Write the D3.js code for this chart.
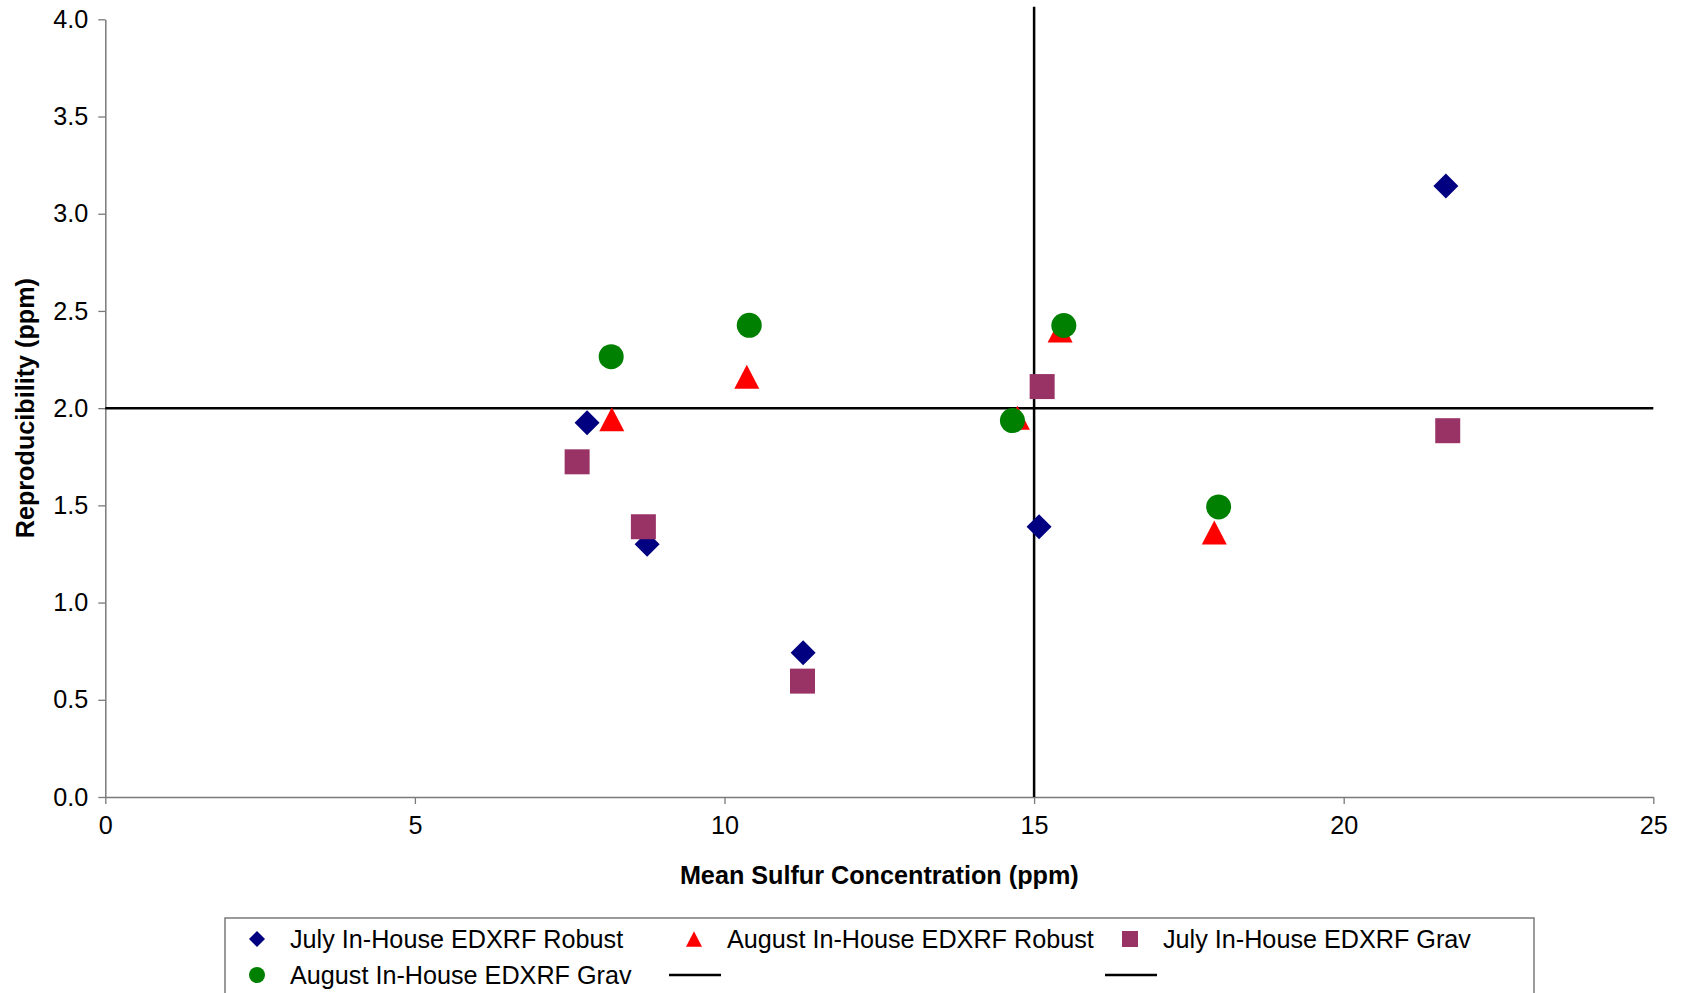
<!DOCTYPE html>
<html><head><meta charset="utf-8">
<script src="https://cdn.jsdelivr.net/npm/d3@7"></script>
<style>
body{margin:0;background:#fff;overflow:hidden;}
svg{display:block;font-family:"Liberation Sans",Arial,sans-serif;}
</style>
</head><body>
<svg id="chart" width="1682" height="993"></svg>
<script>
// ---- data ----
const seriesNames = ["July In-House EDXRF Robust", "August In-House EDXRF Robust", "July In-House EDXRF Grav", "August In-House EDXRF Grav", "", ""];
const julyRobustX = [7.78, 8.75, 11.27, 15.08, 21.65];
const julyRobustY = [1.925, 1.30, 0.742, 1.39, 3.143];
const augRobustX  = [8.18, 10.36, 14.73, 15.42, 17.91];
const augRobustY  = [1.943, 2.162, 1.95, 2.40, 1.361];
const julyGravX   = [7.62, 8.69, 11.26, 15.13, 21.68];
const julyGravY   = [1.724, 1.39, 0.596, 2.111, 1.884];
const augGravX    = [8.17, 10.40, 14.65, 15.48, 17.98];
const augGravY    = [2.265, 2.426, 1.936, 2.425, 1.492];
const vLineX = [15, 15];
const vLineY = [0, 4.065];
const hLineX = [0, 25];
const hLineY = [2, 2];
const xTicks = [0, 5, 10, 15, 20, 25];
const yTicks = [0, 0.5, 1.0, 1.5, 2.0, 2.5, 3.0, 3.5, 4.0];
const xTitle = "Mean Sulfur Concentration (ppm)";
const yTitle = "Reproducibility (ppm)";

// ---- layout ----
const svg = d3.select("#chart");
const x = d3.scaleLinear().domain([0, 25]).range([105.3, 1653.3]);
const y = d3.scaleLinear().domain([0, 4]).range([797, 19.3]);
const FONT = 25.2;

// custom symbols (size = bounding width squared)
const diamond = {draw(ctx, s){const r = Math.sqrt(s)/2; ctx.moveTo(0,-r); ctx.lineTo(r,0); ctx.lineTo(0,r); ctx.lineTo(-r,0); ctx.closePath();}};
const triangle = {draw(ctx, s){const w = Math.sqrt(s), h = w*0.96; ctx.moveTo(0,-h/2); ctx.lineTo(w/2,h/2); ctx.lineTo(-w/2,h/2); ctx.closePath();}};
const square = {draw(ctx, s){const r = Math.sqrt(s)/2; ctx.rect(-r,-r,2*r,2*r);}};
const circle = {draw(ctx, s){const r = Math.sqrt(s)/2; ctx.moveTo(r,0); ctx.arc(0,0,r,0,2*Math.PI);}};

const series = [
  {name: seriesNames[0], xs: julyRobustX, ys: julyRobustY, type: diamond, color: "#000080"},
  {name: seriesNames[1], xs: augRobustX, ys: augRobustY, type: triangle, color: "#FF0000"},
  {name: seriesNames[2], xs: julyGravX, ys: julyGravY, type: square, color: "#993366"},
  {name: seriesNames[3], xs: augGravX, ys: augGravY, type: circle, color: "#008000"}
];

// axes
const yAxis = svg.append("g").attr("transform", `translate(${x(0)},0)`)
  .call(d3.axisLeft(y).tickValues(yTicks).tickFormat(d3.format(".1f")).tickSize(7).tickSizeOuter(0).tickPadding(10));
const xAxis = svg.append("g").attr("transform", `translate(0,${y(0)})`)
  .call(d3.axisBottom(x).tickValues(xTicks).tickFormat(d3.format("d")).tickSize(7).tickSizeOuter(0).tickPadding(12));
[yAxis, xAxis].forEach(g => {
  g.select(".domain").attr("stroke", "#7a7a7a").attr("stroke-width", 1.5);
  g.selectAll(".tick line").attr("stroke", "#7a7a7a").attr("stroke-width", 1.3);
  g.selectAll(".tick text").attr("fill", "#000").style("font-size", FONT + "px").style("font-family", "'Liberation Sans', Arial, sans-serif");
});

// titles
svg.append("text").attr("x", (x(0)+x(25))/2).attr("y", 884).attr("text-anchor", "middle")
  .style("font-size", FONT + "px").style("font-weight", "bold").text(xTitle);
svg.append("text").attr("transform", `translate(34,${(y(0)+y(4))/2}) rotate(-90)`).attr("text-anchor", "middle")
  .style("font-size", FONT + "px").style("font-weight", "bold").text(yTitle);

// reference lines
const line = d3.line().x(d => x(d[0])).y(d => y(d[1]));
svg.append("path").attr("d", line(d3.zip(hLineX, hLineY))).attr("stroke", "#000").attr("stroke-width", 2.5).attr("fill", "none");
svg.append("path").attr("d", line(d3.zip(vLineX, vLineY))).attr("stroke", "#000").attr("stroke-width", 2.5).attr("fill", "none");

// markers
series.forEach(s => {
  svg.append("g").selectAll("path").data(d3.zip(s.xs, s.ys)).join("path")
    .attr("transform", d => `translate(${x(d[0])},${y(d[1])})`)
    .attr("d", d3.symbol().type(s.type).size(625))
    .attr("fill", s.color);
});

// legend
const leg = svg.append("g");
leg.append("rect").attr("x", 225).attr("y", 918).attr("width", 1309).attr("height", 120)
  .attr("fill", "#fff").attr("stroke", "#7a7a7a").attr("stroke-width", 1.5);
const colX = [257, 694, 1130];
const rowY = [939, 975];
const legendItems = [
  {label: seriesNames[0], type: diamond, color: "#000080"},
  {label: seriesNames[1], type: triangle, color: "#FF0000"},
  {label: seriesNames[2], type: square, color: "#993366"},
  {label: seriesNames[3], type: circle, color: "#008000"},
  {label: seriesNames[4], line: true},
  {label: seriesNames[5], line: true}
];
legendItems.forEach((it, i) => {
  const cx = colX[i % 3], cy = rowY[Math.floor(i / 3)];
  if (it.line) {
    leg.append("line").attr("x1", cx - 25).attr("x2", cx + 27).attr("y1", cy).attr("y2", cy)
      .attr("stroke", "#000").attr("stroke-width", 2.5);
  } else {
    leg.append("path").attr("transform", `translate(${cx},${cy})`)
      .attr("d", d3.symbol().type(it.type).size(256)).attr("fill", it.color);
    leg.append("text").attr("x", cx + 33).attr("y", cy).attr("dy", "0.35em")
      .style("font-size", FONT + "px").text(it.label);
  }
});
</script>
</body></html>
